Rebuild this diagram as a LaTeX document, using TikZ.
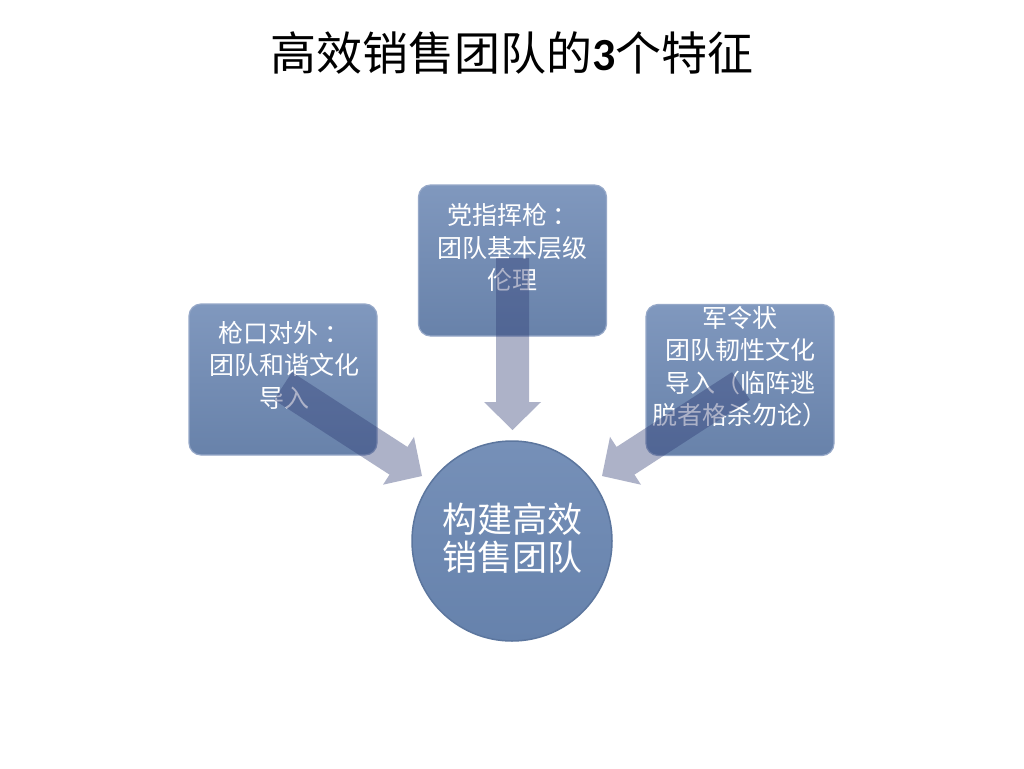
\documentclass[tikz,border=0pt]{standalone}
\usepackage{fontspec}
\setmainfont{Carlito}
\newfontfamily\cjk{Noto Sans CJK SC}
\usetikzlibrary{calc}
\definecolor{boxtop}{RGB}{128,152,190}
\definecolor{boxbot}{RGB}{104,130,170}
\definecolor{boxedge}{RGB}{150,168,200}
\definecolor{circtop}{RGB}{118,144,184}
\definecolor{circbot}{RGB}{102,130,172}
\definecolor{circedge}{RGB}{92,118,158}
\definecolor{arrowcol}{RGB}{45,58,115}
\tikzset{
  featbox/.style={rounded corners=12pt, top color=boxtop, bottom color=boxbot, draw=boxedge, line width=1.2pt, minimum width=188pt, minimum height=151pt, inner sep=0pt},
  feattext/.style={text=white, align=center, inner sep=0pt, font=\cjk\fontsize{25}{32.5}\selectfont},
  goalcirc/.style={circle, top color=circtop, bottom color=circbot, draw=circedge, line width=1.5pt, minimum size=200pt, inner sep=0pt},
  goaltext/.style={text=white, align=center, inner sep=0pt, font=\cjk\fontsize{35}{38}\selectfont},
  blockarrow/.style={fill=arrowcol, fill opacity=0.39, draw=none}
}
\newcommand{\blockarr}[2]{%
  \path coordinate (hb) at ($(#2)!28pt!(#1)$);
  \fill[blockarrow]
    ($(#1)!16.5pt!90:(#2)$) -- ($(hb)!16.5pt!-90:(#1)$) -- ($(hb)!28.5pt!-90:(#1)$) -- (#2)
    -- ($(hb)!28.5pt!90:(#1)$) -- ($(hb)!16.5pt!90:(#1)$) -- ($(#1)!16.5pt!-90:(#2)$) -- cycle;
}
\begin{document}
\begin{tikzpicture}[x=1pt,y=-1pt]
  \fill[white] (0,0) rectangle (1024,768);
  \useasboundingbox (0,0) rectangle (1024,768);
  \node[font=\cjk\fontsize{46}{50}\selectfont, inner sep=0pt] (title) at (512,53) {高效销售团队的{\fontspec{Carlito}\bfseries 3}个特征};
  \node[featbox] (left) at (283,379.5) {};
  \node[featbox] (top) at (512.5,260.5) {};
  \node[featbox] (right) at (740,380) {};
  \node[goalcirc] (goal) at (512,541) {};
  \node[feattext] (lefttext) at (284,365) {枪口对外 ：\\团队和谐文化\\导入};
  \node[feattext] (toptext) at (512.5,247.5) {党指挥枪 ：\\团队基本层级\\伦理};
  \node[feattext] (righttext) at (740,366.5) {军令状\\团队韧性文化\\导入（临阵逃\\脱者格杀勿论）};
  \node[goaltext] (goaltxt) at (512,538) {构建高效\\销售团队};
  \coordinate (ls) at (283,386);
  \coordinate (lt) at (422,476);
  \coordinate (ts) at (512.5,258);
  \coordinate (tt) at (512.5,430);
  \coordinate (rs) at (741,386);
  \coordinate (rt) at (602,476);
  \blockarr{ls}{lt}
  \blockarr{ts}{tt}
  \blockarr{rs}{rt}
\end{tikzpicture}
\end{document}
